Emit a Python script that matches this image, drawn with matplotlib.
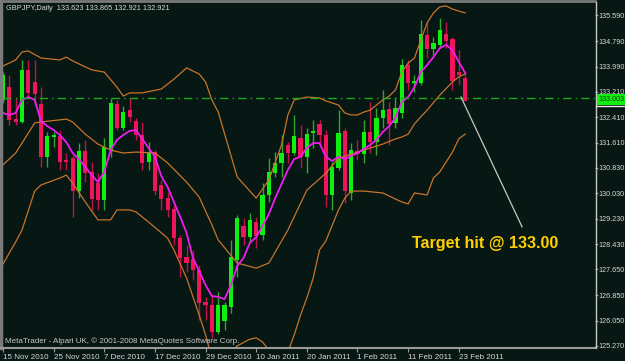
import matplotlib
matplotlib.use('Agg')
import matplotlib.pyplot as plt
from matplotlib.lines import Line2D
from matplotlib.patches import Rectangle
import numpy as np

plt.rcParams['font.family'] = ['Liberation Sans', 'DejaVu Sans']

# ---------------- data ----------------
tick_idx = [0, 8, 16, 24, 32, 40, 48, 56, 64, 72]
tick_labels = ['15 Nov 2010', '25 Nov 2010', '7 Dec 2010', '17 Dec 2010', '29 Dec 2010',
               '10 Jan 2011', '20 Jan 2011', '1 Feb 2011', '11 Feb 2011', '23 Feb 2011']

opens = [132.95, 133.35, 132.35, 132.26, 133.89, 133.51, 132.82, 131.17, 131.79, 131.82,
         131.07, 131.13, 130.10, 131.35, 130.70, 130.35, 129.82, 131.38, 132.82, 132.07,
         132.63, 132.29, 131.85, 131.01, 131.32, 130.29, 129.88, 129.54, 128.63, 128.04,
         127.97, 127.63, 126.63, 126.54, 125.69, 126.04, 126.47, 127.94, 129.01, 128.66,
         129.13, 128.73, 129.98, 130.66, 130.98, 131.54, 131.29, 131.76, 131.17, 131.92,
         132.20, 131.85, 129.98, 130.82, 131.98, 130.04, 131.35, 131.26, 131.95, 131.63,
         132.39, 132.67, 132.23, 132.54, 134.04, 133.48, 133.48, 134.98, 134.54, 134.67,
         135.01, 134.86, 133.82, 133.623]
highs = [133.82, 133.73, 133.01, 134.20, 134.20, 134.20, 133.35, 131.95, 131.95, 132.01,
         131.29, 131.23, 131.60, 131.70, 131.01, 130.66, 131.76, 133.01, 132.95, 132.76,
         133.01, 132.39, 132.26, 131.63, 131.38, 130.45, 130.07, 129.66, 128.73, 128.41,
         128.26, 127.79, 126.79, 126.85, 126.94, 126.63, 128.57, 129.35, 129.26, 129.41,
         129.29, 130.35, 131.13, 131.32, 131.85, 131.63, 132.48, 132.17, 132.07, 132.32,
         132.32, 132.01, 131.01, 132.63, 132.07, 131.60, 131.70, 132.32, 132.89, 132.70,
         133.26, 132.89, 133.04, 134.23, 134.20, 133.73, 135.45, 135.39, 134.92, 135.51,
         135.39, 134.92, 134.51, 133.865]
lows = [132.85, 132.17, 132.17, 132.23, 133.01, 132.79, 130.85, 130.85, 131.48, 130.76,
        130.76, 129.29, 129.88, 130.38, 129.51, 129.51, 129.51, 131.17, 132.01, 132.01,
        132.26, 131.70, 130.76, 130.76, 129.98, 129.51, 129.29, 128.41, 127.41, 127.57,
        127.32, 126.07, 126.07, 125.50, 125.63, 125.75, 126.29, 127.41, 128.41, 128.48,
        128.32, 128.57, 129.76, 130.54, 130.54, 130.98, 131.23, 130.82, 130.66, 131.45,
        131.54, 129.60, 129.51, 130.76, 129.73, 129.82, 131.07, 130.98, 131.29, 131.23,
        132.07, 131.54, 132.07, 132.39, 133.26, 133.20, 133.42, 134.26, 134.35, 134.57,
        134.57, 133.26, 133.42, 132.921]
closes = [133.73, 132.32, 132.26, 133.89, 133.17, 133.14, 131.17, 131.82, 131.85, 131.01,
          131.01, 130.10, 131.35, 130.66, 129.85, 129.82, 131.48, 132.85, 132.07, 132.57,
          132.42, 131.85, 130.98, 131.32, 130.10, 129.85, 129.51, 128.63, 128.01, 127.85,
          127.63, 126.60, 126.54, 125.69, 126.54, 126.54, 128.04, 129.26, 128.66, 129.20,
          128.69, 129.98, 130.70, 130.98, 131.29, 131.29, 131.82, 131.17, 131.88, 131.98,
          131.85, 129.98, 130.85, 131.92, 130.10, 131.38, 131.26, 131.95, 131.63, 132.39,
          132.63, 132.20, 132.70, 134.04, 133.48, 133.54, 135.01, 134.54, 134.73, 135.14,
          134.79, 133.54, 133.73, 132.921]

ma_values = [132.54, 132.48, 132.54, 132.95, 133.04, 132.95, 132.29, 132.13, 132.01, 131.85,
             131.63, 131.29, 131.10, 130.85, 130.60, 130.38, 130.70, 131.38, 131.70, 131.85,
             131.98, 132.01, 131.73, 131.45, 131.17, 130.57, 130.23, 129.76, 129.29, 128.79,
             128.01, 127.60, 127.16, 126.82, 126.79, 126.72, 127.16, 127.76, 128.01, 128.48,
             128.66, 129.01, 129.38, 129.88, 130.32, 130.76, 131.10, 131.17, 131.45, 131.60,
             131.60, 131.17, 131.04, 131.17, 131.10, 131.20, 131.29, 131.42, 131.54, 131.70,
             131.95, 132.13, 132.39, 132.89, 133.04, 133.35, 133.82, 134.04, 134.29, 134.57,
             134.67, 134.51, 134.14, 133.79]

upper_idx = [0, 2, 3, 4, 6, 9, 10, 11, 14, 16, 18, 19, 20, 22, 25, 27, 29, 31, 32, 33, 34, 37,
             40, 42, 44, 45, 46, 48, 50, 51, 53, 54, 55, 56, 57, 58, 59, 60, 61, 62, 63, 64,
             65, 66, 67, 68, 69, 70, 71, 72, 73]
upper_vals = [134.01, 134.20, 134.45, 134.48, 134.26, 134.20, 134.29, 134.17, 133.89, 133.82,
              133.35, 133.07, 133.17, 133.17, 133.29, 133.60, 133.95, 133.76, 133.51, 132.95,
              132.57, 130.54, 129.88, 130.45, 131.54, 132.48, 132.95, 133.04, 133.01, 132.92,
              132.79, 132.54, 132.48, 132.48, 132.57, 132.63, 132.79, 132.95, 133.07, 133.26,
              133.82, 134.10, 134.26, 134.82, 135.36, 135.67, 135.86, 135.89, 135.79, 135.73,
              135.67]

middle_idx = [0, 2, 3, 5, 6, 10, 11, 13, 15, 17, 19, 21, 24, 26, 29, 31, 33, 34, 37, 40, 42,
              45, 48, 51, 53, 57, 60, 62, 63, 64, 65, 66, 67, 69, 71, 72, 73]
middle_vals = [130.92, 131.29, 131.60, 132.23, 132.26, 132.35, 132.26, 131.88, 131.57, 131.38,
               131.29, 131.32, 131.29, 130.98, 130.38, 129.91, 129.04, 128.57, 127.85, 127.69,
               127.85, 128.88, 130.13, 130.66, 131.13, 131.38, 131.57, 131.73, 131.79, 131.88,
               132.20, 132.42, 132.63, 133.10, 133.51, 133.67, 133.76]

lower_idx = [0, 2, 3, 5, 6, 9, 10, 11, 13, 15, 17, 18, 20, 21, 23, 26, 27, 29, 31, 32, 33, 34,
             35, 36, 37, 39, 40, 41, 42, 43, 44, 45, 46, 47, 48, 49, 50, 51, 53, 54, 55, 57,
             60, 62, 63, 64, 65, 67, 68, 69, 71, 72, 73]
lower_vals = [127.82, 128.51, 128.88, 130.10, 130.29, 130.51, 130.60, 130.35, 129.76, 129.20,
              129.20, 129.51, 129.51, 129.45, 129.13, 128.63, 128.26, 127.38, 126.22, 125.60,
              124.88, 124.57, 124.75, 125.07, 125.26, 125.47, 125.51, 125.38, 125.13, 124.82,
              124.75, 125.07, 125.60, 126.22, 126.76, 127.38, 128.26, 128.54, 129.51, 129.88,
              130.10, 130.10, 130.04, 129.85, 129.76, 129.70, 130.04, 129.98, 130.51, 130.70,
              131.32, 131.73, 131.88]

price_ticks = [135.590, 134.790, 133.990, 133.210, 132.410, 131.610, 130.830, 130.030,
               129.230, 128.430, 127.650, 126.850, 126.050, 125.270]
hline_price = 133.003
arrow_idx = [72.35, 82.0]
arrow_price = [133.04, 128.98]

header = 'GBPJPY,Daily  133.623 133.865 132.921 132.921'
footer = 'MetaTrader - Alpari UK, \u00a9 2001-2008 MetaQuotes Software Corp.'
note = 'Target hit @ 133.00'

# ---------------- style ----------------
BG = '#071714'
BULL = '#10F010'
BEAR = '#F0145A'
WICK_UP = '#2FA82A'
WICK_DN = '#C0124A'
BAND = '#C8742A'
MA = '#F01CF0'
GRID = '#9A9A9A'
TXT = '#D8D8D8'

W, H = 625, 361
fig = plt.figure(figsize=(W / 100, H / 100), dpi=100, facecolor=BG)


def fx(px):
    return px / W


def fy(py):
    return 1 - py / H


ax = fig.add_axes([fx(2.5), fy(347.5), fx(595) - fx(2.5), fy(2.5) - fy(347.5)])
ax.set_facecolor(BG)
ax.set_xlim(-0.08, 93.52)
ax.set_ylim(125.209, 135.996)
for s in ax.spines.values():
    s.set_visible(False)

o = np.array(opens)
h = np.array(highs)
l = np.array(lows)
c = np.array(closes)
idx = np.arange(len(o))
up = c >= o

ax.vlines(idx[up], l[up], h[up], color=WICK_UP, lw=1.0, zorder=2)
ax.vlines(idx[~up], l[~up], h[~up], color=WICK_DN, lw=1.0, zorder=2)
bot = np.minimum(o, c)
hei = np.maximum(np.abs(c - o), 0.03)
ax.bar(idx[up], hei[up], bottom=bot[up], width=0.66, color=BULL, linewidth=0, zorder=3)
ax.bar(idx[~up], hei[~up], bottom=bot[~up], width=0.66, color=BEAR, linewidth=0, zorder=3)

ax.plot(upper_idx, upper_vals, color=BAND, lw=0.9, zorder=4)
ax.plot(middle_idx, middle_vals, color=BAND, lw=0.9, zorder=4)
ax.plot(lower_idx, lower_vals, color=BAND, lw=0.9, zorder=4)
ax.plot(idx, ma_values, color=MA, lw=1.3, zorder=5)

ax.axhline(hline_price, color='#1FA81F', lw=1.0, dashes=(6, 3, 1, 3), zorder=6)
ax.plot(arrow_idx, arrow_price, color='#C8C8C8', lw=0.9, zorder=6)

# axes ticks
ax.yaxis.tick_right()
ax.set_yticks(price_ticks)
ax.set_yticklabels(['%.3f' % v for v in price_ticks])
ax.tick_params(axis='y', length=2, width=0.8, color=GRID, labelsize=5.2,
               labelcolor=TXT, pad=0.8)
ax.set_xticks(tick_idx)
ax.set_xticklabels(tick_labels)
for lab in ax.get_xticklabels():
    lab.set_horizontalalignment('left')
ax.tick_params(axis='x', length=3, width=0.8, color=GRID, labelsize=5.8,
               labelcolor=TXT, pad=2)

# frame lines
fig.add_artist(Line2D([fx(0.5), fx(0.5)], [fy(0), fy(348)], color='#7A7A7A', lw=2.5))
fig.add_artist(Line2D([fx(0), fx(595)], [fy(0.8), fy(0.8)], color='#7A7A7A', lw=2))
fig.add_artist(Line2D([fx(0), fx(595.5)], [fy(347.5), fy(347.5)], color='#9A9A9A', lw=1.5))
fig.add_artist(Line2D([fx(595.5), fx(595.5)], [fy(2), fy(348)], color='#C8C8C8', lw=1))

# current line label
fig.add_artist(Rectangle((fx(597), fy(104.5)), fx(W) - fx(597), fy(94) - fy(104.5),
                         facecolor='#10F010', edgecolor='none', zorder=10))
fig.add_artist(Line2D([fx(595.5), fx(W)], [fy(106), fy(106)], color='#E8E8E8', lw=1, zorder=10))
fig.text(fx(598.5), fy(99.5), '%.3f' % hline_price, fontsize=5.2, color='#0A3A0A',
         va='center', ha='left', zorder=11)

fig.text(fx(6), fy(8.5), header, fontsize=5.3, color=TXT, va='center', ha='left')
fig.text(fx(5), fy(341), footer, fontsize=5.8, color='#C8C8C8', va='center', ha='left')
fig.text(fx(412), fy(248), note, fontsize=11.6, fontweight='bold', color='#FFD000',
         va='baseline', ha='left')

fig.savefig('out.png', dpi=100, facecolor=BG)
